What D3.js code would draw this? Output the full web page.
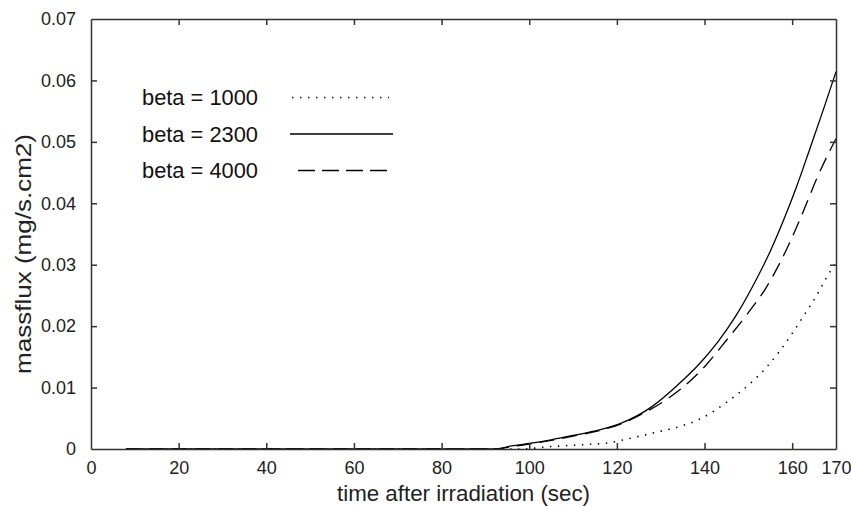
<!DOCTYPE html>
<html>
<head>
<meta charset="utf-8">
<script src="https://cdn.jsdelivr.net/npm/d3@7"></script>
<style>
  html, body { margin: 0; padding: 0; background: #fff; }
  svg { display: block; font-family: "Liberation Sans", Arial, sans-serif; }
</style>
</head>
<body>
<svg id="chart" width="851" height="506"></svg>
<script>
// ---- data ----
const seriesNames = ["beta = 1000", "beta = 2300", "beta = 4000"];

const time1000 = [8, 98, 105, 112, 118, 124, 130, 135, 139, 142, 145, 150, 154, 157, 160, 163, 166, 168, 170];
const flux1000 = [0, 0, 0.0004, 0.0007, 0.0010, 0.0019, 0.0029, 0.0038, 0.0049, 0.0061, 0.0076, 0.0104, 0.0132, 0.0158, 0.0188, 0.0221, 0.0255, 0.0281, 0.0303];

const time2300 = [8, 92, 96, 100, 105, 110, 116, 121, 128, 134, 139, 143, 147, 151, 155, 158, 161, 164, 167, 170];
const flux2300 = [0, 0, 0.0005, 0.0009, 0.0015, 0.0022, 0.0031, 0.0042, 0.0069, 0.0105, 0.0140, 0.0174, 0.0215, 0.0265, 0.0322, 0.0372, 0.0427, 0.0488, 0.0550, 0.0614];

const time4000 = [8, 92, 96, 100, 105, 110, 116, 121, 126, 131, 135, 140.5, 145, 150, 154, 157.2, 160.7, 163.3, 165.6, 168, 170];
const flux4000 = [0, 0, 0.0004, 0.0008, 0.0014, 0.0021, 0.0030, 0.0041, 0.0058, 0.0079, 0.0100, 0.0138, 0.0177, 0.0222, 0.0262, 0.0303, 0.0356, 0.0400, 0.0440, 0.0477, 0.0505];

const xTicks = [0, 20, 40, 60, 80, 100, 120, 140, 160, 170];
const yTicks = [0, 0.01, 0.02, 0.03, 0.04, 0.05, 0.06, 0.07];
const xTickLabels = ["0", "20", "40", "60", "80", "100", "120", "140", "160", "170"];
const yTickLabels = ["0", "0.01", "0.02", "0.03", "0.04", "0.05", "0.06", "0.07"];
const xLabel = "time after irradiation (sec)";
const yLabel = "massflux (mg/s.cm2)";

// ---- layout ----
const svg = d3.select("#chart");
const PL = 91, PR = 836, PT = 19, PB = 449;
const x = d3.scaleLinear().domain([0, 170]).range([PL, PR]);
const y = d3.scaleLinear().domain([0, 0.07]).range([PB, PT]);

const axisColor = "#333";
const tickLen = 6;

const series = [
  { name: seriesNames[0], t: time1000, v: flux1000, dash: "1.4,6.6", w: 1.6, legDash: "1.4,6.6" },
  { name: seriesNames[1], t: time2300, v: flux2300, dash: null, w: 1.3, legDash: null },
  { name: seriesNames[2], t: time4000, v: flux4000, dash: "15,8", w: 1.3, legDash: "17,7" }
];

const lineGen = d3.line().x(d => x(d[0])).y(d => y(d[1])).curve(d3.curveMonotoneX);

const plot = svg.append("g");
series.forEach(s => {
  const pts = s.t.map((t, i) => [t, s.v[i]]);
  plot.append("path")
    .attr("d", lineGen(pts))
    .attr("fill", "none")
    .attr("stroke", "#000")
    .attr("stroke-width", s.w)
    .attr("stroke-dasharray", s.dash);
});

// ---- axes (box with inward ticks) ----
const axB = d3.axisBottom(x).tickValues(xTicks).tickSize(-tickLen).tickSizeOuter(0).tickPadding(tickLen + 6)
  .tickFormat((d, i) => xTickLabels[i]);
const axT = d3.axisTop(x).tickValues(xTicks.filter(d => d > 0 && d < 170)).tickSize(-tickLen).tickSizeOuter(0).tickFormat("");
const axL = d3.axisLeft(y).tickValues(yTicks).tickSize(-tickLen).tickSizeOuter(0).tickPadding(tickLen + 9)
  .tickFormat((d, i) => yTickLabels[i]);
const axR = d3.axisRight(y).tickValues(yTicks.filter(d => d > 0 && d < 0.07)).tickSize(-tickLen).tickSizeOuter(0).tickFormat("");

function styleAxis(g) {
  g.select(".domain").attr("stroke", axisColor).attr("stroke-width", 1.5);
  g.selectAll(".tick line").attr("stroke", axisColor).attr("stroke-width", 1.5);
  g.selectAll(".tick text").attr("fill", "#222").style("font-size", "18px")
    .style("font-family", '"Liberation Sans", Arial, sans-serif');
}

svg.append("g").attr("transform", `translate(0,${PB})`).call(axB).call(styleAxis);
svg.append("g").attr("transform", `translate(0,${PT})`).call(axT).call(styleAxis);
svg.append("g").attr("transform", `translate(${PL},0)`).call(axL).call(styleAxis);
svg.append("g").attr("transform", `translate(${PR},0)`).call(axR).call(styleAxis);
// hide inward ticks that coincide with the box corners
svg.selectAll(".tick").filter(d => d === 0 || d === 170 || d === 0.07).select("line").attr("stroke-opacity", 0);

// ---- axis labels ----
svg.append("text")
  .attr("x", (PL + PR) / 2).attr("y", 501)
  .attr("text-anchor", "middle")
  .attr("fill", "#222").style("font-size", "22px")
  .attr("textLength", 253).attr("lengthAdjust", "spacingAndGlyphs")
  .text(xLabel);

svg.append("text")
  .attr("transform", `translate(31,254) rotate(-90)`)
  .attr("text-anchor", "middle")
  .attr("fill", "#222").style("font-size", "22px")
  .attr("textLength", 240).attr("lengthAdjust", "spacingAndGlyphs")
  .text(yLabel);

// ---- legend ----
const legendRows = [
  { x1: 292, x2: 389 },
  { x1: 290, x2: 393 },
  { x1: 298, x2: 387 }
];
const legend = svg.append("g");
series.forEach((s, i) => {
  const baseY = 105 + i * 36.5;
  legend.append("text")
    .attr("x", 142).attr("y", baseY)
    .attr("fill", "#111").style("font-size", "22px")
    .attr("textLength", 116).attr("lengthAdjust", "spacingAndGlyphs")
    .text(s.name);
  legend.append("line")
    .attr("x1", legendRows[i].x1).attr("x2", legendRows[i].x2)
    .attr("y1", baseY - 7.5).attr("y2", baseY - 7.5)
    .attr("stroke", "#000")
    .attr("stroke-width", s.w)
    .attr("stroke-dasharray", s.legDash);
});
</script>
</body>
</html>
